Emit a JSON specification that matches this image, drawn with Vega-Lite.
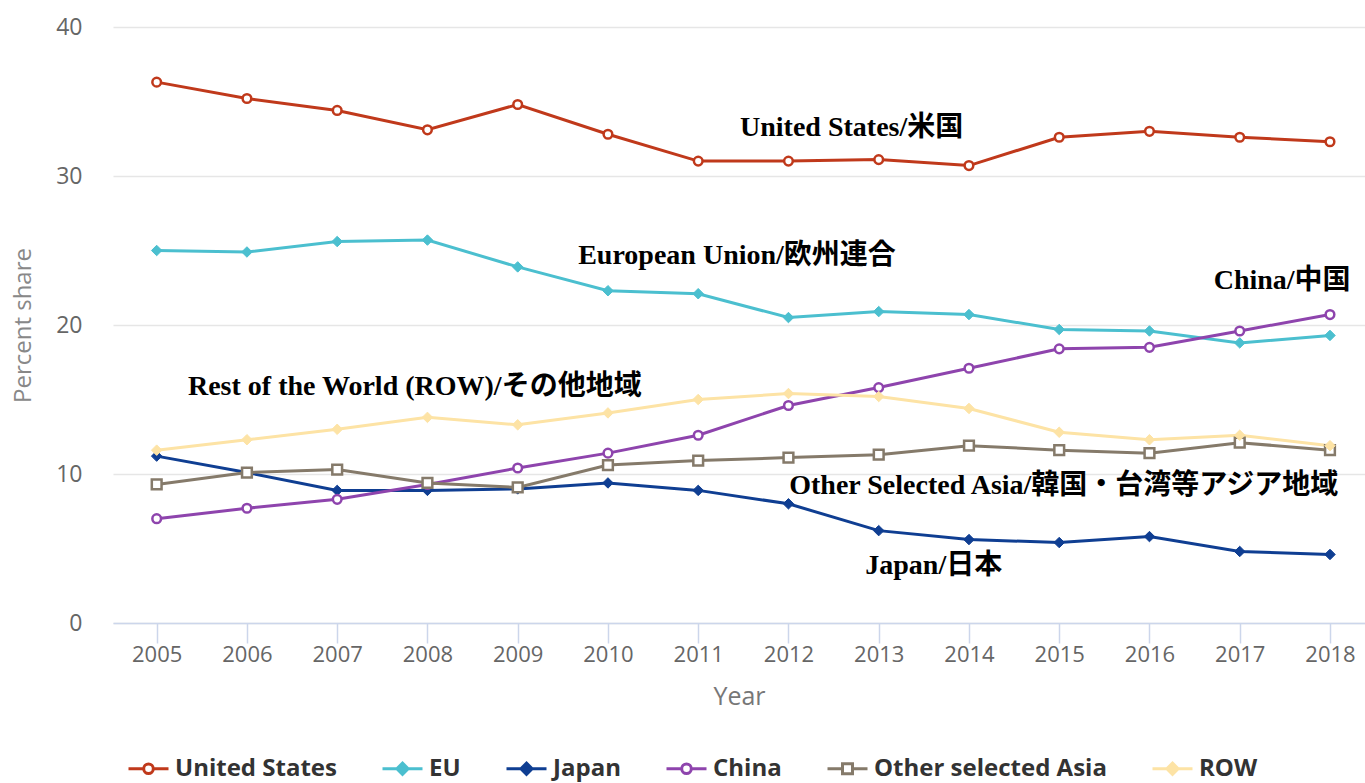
{
  "$schema": "https://vega.github.io/schema/vega-lite/v6.json",
  "width": 1252,
  "height": 596,
  "autosize": {"type": "none"},
  "padding": {"left": 113, "top": 27, "right": 0, "bottom": 160},
  "background": "white",
  "config": {
    "view": {"stroke": null},
    "font": "Open Sans"
  },
  "datasets": {
    "shares": [
      {"year": 2005, "series": "United States", "value": 36.3},
      {"year": 2006, "series": "United States", "value": 35.2},
      {"year": 2007, "series": "United States", "value": 34.4},
      {"year": 2008, "series": "United States", "value": 33.1},
      {"year": 2009, "series": "United States", "value": 34.8},
      {"year": 2010, "series": "United States", "value": 32.8},
      {"year": 2011, "series": "United States", "value": 31.0},
      {"year": 2012, "series": "United States", "value": 31.0},
      {"year": 2013, "series": "United States", "value": 31.1},
      {"year": 2014, "series": "United States", "value": 30.7},
      {"year": 2015, "series": "United States", "value": 32.6},
      {"year": 2016, "series": "United States", "value": 33.0},
      {"year": 2017, "series": "United States", "value": 32.6},
      {"year": 2018, "series": "United States", "value": 32.3},
      {"year": 2005, "series": "EU", "value": 25.0},
      {"year": 2006, "series": "EU", "value": 24.9},
      {"year": 2007, "series": "EU", "value": 25.6},
      {"year": 2008, "series": "EU", "value": 25.7},
      {"year": 2009, "series": "EU", "value": 23.9},
      {"year": 2010, "series": "EU", "value": 22.3},
      {"year": 2011, "series": "EU", "value": 22.1},
      {"year": 2012, "series": "EU", "value": 20.5},
      {"year": 2013, "series": "EU", "value": 20.9},
      {"year": 2014, "series": "EU", "value": 20.7},
      {"year": 2015, "series": "EU", "value": 19.7},
      {"year": 2016, "series": "EU", "value": 19.6},
      {"year": 2017, "series": "EU", "value": 18.8},
      {"year": 2018, "series": "EU", "value": 19.3},
      {"year": 2005, "series": "Japan", "value": 11.2},
      {"year": 2006, "series": "Japan", "value": 10.1},
      {"year": 2007, "series": "Japan", "value": 8.9},
      {"year": 2008, "series": "Japan", "value": 8.9},
      {"year": 2009, "series": "Japan", "value": 9.0},
      {"year": 2010, "series": "Japan", "value": 9.4},
      {"year": 2011, "series": "Japan", "value": 8.9},
      {"year": 2012, "series": "Japan", "value": 8.0},
      {"year": 2013, "series": "Japan", "value": 6.2},
      {"year": 2014, "series": "Japan", "value": 5.6},
      {"year": 2015, "series": "Japan", "value": 5.4},
      {"year": 2016, "series": "Japan", "value": 5.8},
      {"year": 2017, "series": "Japan", "value": 4.8},
      {"year": 2018, "series": "Japan", "value": 4.6},
      {"year": 2005, "series": "China", "value": 7.0},
      {"year": 2006, "series": "China", "value": 7.7},
      {"year": 2007, "series": "China", "value": 8.3},
      {"year": 2008, "series": "China", "value": 9.3},
      {"year": 2009, "series": "China", "value": 10.4},
      {"year": 2010, "series": "China", "value": 11.4},
      {"year": 2011, "series": "China", "value": 12.6},
      {"year": 2012, "series": "China", "value": 14.6},
      {"year": 2013, "series": "China", "value": 15.8},
      {"year": 2014, "series": "China", "value": 17.1},
      {"year": 2015, "series": "China", "value": 18.4},
      {"year": 2016, "series": "China", "value": 18.5},
      {"year": 2017, "series": "China", "value": 19.6},
      {"year": 2018, "series": "China", "value": 20.7},
      {"year": 2005, "series": "Other selected Asia", "value": 9.3},
      {"year": 2006, "series": "Other selected Asia", "value": 10.1},
      {"year": 2007, "series": "Other selected Asia", "value": 10.3},
      {"year": 2008, "series": "Other selected Asia", "value": 9.4},
      {"year": 2009, "series": "Other selected Asia", "value": 9.1},
      {"year": 2010, "series": "Other selected Asia", "value": 10.6},
      {"year": 2011, "series": "Other selected Asia", "value": 10.9},
      {"year": 2012, "series": "Other selected Asia", "value": 11.1},
      {"year": 2013, "series": "Other selected Asia", "value": 11.3},
      {"year": 2014, "series": "Other selected Asia", "value": 11.9},
      {"year": 2015, "series": "Other selected Asia", "value": 11.6},
      {"year": 2016, "series": "Other selected Asia", "value": 11.4},
      {"year": 2017, "series": "Other selected Asia", "value": 12.1},
      {"year": 2018, "series": "Other selected Asia", "value": 11.6},
      {"year": 2005, "series": "ROW", "value": 11.6},
      {"year": 2006, "series": "ROW", "value": 12.3},
      {"year": 2007, "series": "ROW", "value": 13.0},
      {"year": 2008, "series": "ROW", "value": 13.8},
      {"year": 2009, "series": "ROW", "value": 13.3},
      {"year": 2010, "series": "ROW", "value": 14.1},
      {"year": 2011, "series": "ROW", "value": 15.0},
      {"year": 2012, "series": "ROW", "value": 15.4},
      {"year": 2013, "series": "ROW", "value": 15.2},
      {"year": 2014, "series": "ROW", "value": 14.4},
      {"year": 2015, "series": "ROW", "value": 12.8},
      {"year": 2016, "series": "ROW", "value": 12.3},
      {"year": 2017, "series": "ROW", "value": 12.6},
      {"year": 2018, "series": "ROW", "value": 11.9}
    ],
    "notes": [
      {"label": "United States/米国", "year": 2012.70, "value": 33.2},
      {"label": "European Union/欧州連合", "year": 2011.43, "value": 24.6},
      {"label": "China/中国", "year": 2017.47, "value": 22.95},
      {"label": "Rest of the World (ROW)/その他地域", "year": 2007.86, "value": 15.85},
      {"label": "Other Selected Asia/韓国・台湾等アジア地域", "year": 2015.05, "value": 9.2},
      {"label": "Japan/日本", "year": 2013.61, "value": 3.85}
    ]
  },
  "layer": [
    {
      "data": {"name": "shares"},
      "mark": {"type": "line", "strokeWidth": 3},
      "encoding": {
        "x": {
          "field": "year", "type": "quantitative",
          "scale": {"domain": [2004.516, 2018.388], "nice": false, "zero": false},
          "axis": {
            "values": [2005, 2006, 2007, 2008, 2009, 2010, 2011, 2012, 2013, 2014, 2015, 2016, 2017, 2018],
            "format": "d", "title": "Year", "grid": false,
            "domainColor": "#ccd6eb", "domainWidth": 1.5,
            "tickColor": "#ccd6eb", "tickSize": 20, "tickWidth": 1.5,
            "labelFont": "Open Sans", "labelFontSize": 22, "labelColor": "#666666", "labelPadding": 1,
            "titleFont": "Open Sans", "titleFontSize": 25, "titleFontWeight": "normal", "titleColor": "#777777", "titlePadding": 19
          }
        },
        "y": {
          "field": "value", "type": "quantitative",
          "scale": {"domain": [0, 40], "nice": false},
          "axis": {
            "values": [0, 10, 20, 30, 40], "title": "Percent share",
            "domain": false, "ticks": false, "grid": true, "gridColor": "#e6e6e6", "gridWidth": 1.5,
            "labelFont": "Open Sans", "labelFontSize": 23, "labelColor": "#666666", "labelPadding": 31,
            "titleFont": "Open Sans", "titleFontSize": 24, "titleFontWeight": "normal", "titleColor": "#888888", "titlePadding": 20
          }
        },
        "color": {
          "field": "series", "type": "nominal",
          "scale": {
            "domain": ["United States", "EU", "Japan", "China", "Other selected Asia", "ROW"],
            "range": ["#c0391b", "#4bbfcf", "#0f3e92", "#8e44ad", "#857a6a", "#fde3a5"]
          },
          "legend": {
            "orient": "none", "legendX": 14, "legendY": 720, "direction": "horizontal", "title": null,
            "labelFont": "Open Sans", "labelFontSize": 24, "labelFontWeight": "bold", "labelColor": "#333333",
            "labelLimit": 500, "labelOffset": 5, "columnPadding": 39, "symbolSize": 1600, "symbolStrokeWidth": 3,
            "symbolType": "M-1,0L1,0",
            "encode": {
              "symbols": {
                "update": {
                  "shape": {"signal": "datum.value === 'Other selected Asia' ? 'M-1,0L-0.25,0M0.25,0L1,0M-0.25,-0.25L0.25,-0.25L0.25,0.25L-0.25,0.25Z' : (datum.value === 'EU' || datum.value === 'Japan' || datum.value === 'ROW') ? 'M-1,0L1,0M0,-0.28L0.28,0L0,0.28L-0.28,0Z' : 'M-1,0L-0.24,0M0.24,0L1,0M-0.24,0A0.24,0.24 0 1,1 0.24,0A0.24,0.24 0 1,1 -0.24,0'"},
                  "fill": {"signal": "(datum.value === 'EU' || datum.value === 'Japan' || datum.value === 'ROW') ? scale('color', datum.value) : '#ffffff'"},
                  "strokeWidth": {"value": 3}
                }
              }
            }
          }
        }
      }
    },
    {
      "data": {"name": "shares"},
      "transform": [{"filter": "datum.series === 'United States'"}],
      "mark": {"type": "point", "shape": "circle", "size": 75, "filled": false, "fill": "#ffffff", "stroke": "#c0391b", "strokeWidth": 2.5, "opacity": 1},
      "encoding": {"x": {"field": "year", "type": "quantitative"}, "y": {"field": "value", "type": "quantitative"}}
    },
    {
      "data": {"name": "shares"},
      "transform": [{"filter": "datum.series === 'EU'"}],
      "mark": {"type": "point", "shape": "diamond", "size": 110, "filled": true, "fill": "#4bbfcf", "stroke": "#4bbfcf", "strokeWidth": 1, "opacity": 1},
      "encoding": {"x": {"field": "year", "type": "quantitative"}, "y": {"field": "value", "type": "quantitative"}}
    },
    {
      "data": {"name": "shares"},
      "transform": [{"filter": "datum.series === 'Japan'"}],
      "mark": {"type": "point", "shape": "diamond", "size": 110, "filled": true, "fill": "#0f3e92", "stroke": "#0f3e92", "strokeWidth": 1, "opacity": 1},
      "encoding": {"x": {"field": "year", "type": "quantitative"}, "y": {"field": "value", "type": "quantitative"}}
    },
    {
      "data": {"name": "shares"},
      "transform": [{"filter": "datum.series === 'China'"}],
      "mark": {"type": "point", "shape": "circle", "size": 75, "filled": false, "fill": "#ffffff", "stroke": "#8e44ad", "strokeWidth": 2.5, "opacity": 1},
      "encoding": {"x": {"field": "year", "type": "quantitative"}, "y": {"field": "value", "type": "quantitative"}}
    },
    {
      "data": {"name": "shares"},
      "transform": [{"filter": "datum.series === 'Other selected Asia'"}],
      "mark": {"type": "point", "shape": "square", "size": 95, "filled": false, "fill": "#ffffff", "stroke": "#857a6a", "strokeWidth": 2.5, "opacity": 1},
      "encoding": {"x": {"field": "year", "type": "quantitative"}, "y": {"field": "value", "type": "quantitative"}}
    },
    {
      "data": {"name": "shares"},
      "transform": [{"filter": "datum.series === 'ROW'"}],
      "mark": {"type": "point", "shape": "diamond", "size": 110, "filled": true, "fill": "#fde3a5", "stroke": "#fde3a5", "strokeWidth": 1, "opacity": 1},
      "encoding": {"x": {"field": "year", "type": "quantitative"}, "y": {"field": "value", "type": "quantitative"}}
    },
    {
      "data": {"name": "notes"},
      "mark": {"type": "text", "font": "Liberation Serif, Noto Sans CJK JP", "fontSize": 28, "fontWeight": "bold", "color": "#000000", "align": "center", "baseline": "middle"},
      "encoding": {
        "x": {"field": "year", "type": "quantitative"},
        "y": {"field": "value", "type": "quantitative"},
        "text": {"field": "label"}
      }
    }
  ]
}
